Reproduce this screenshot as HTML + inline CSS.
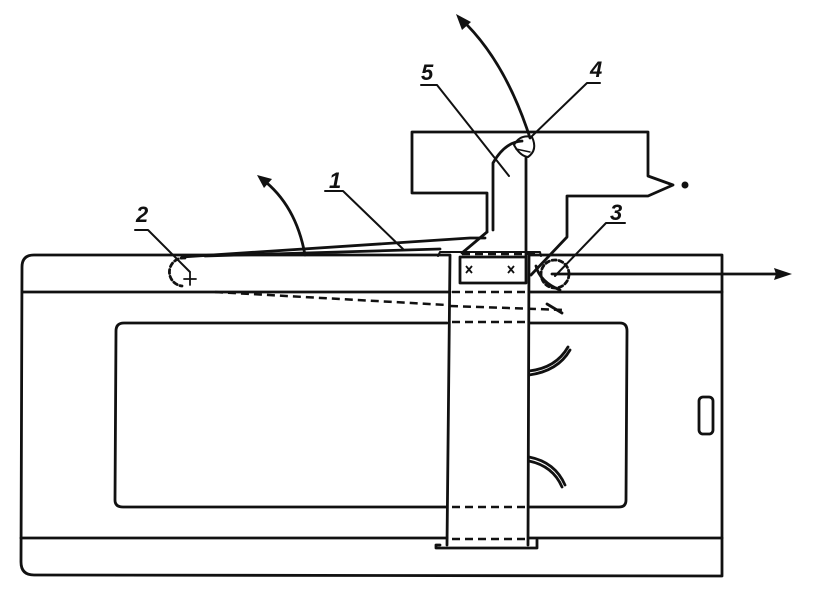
<!DOCTYPE html>
<html><head><meta charset="utf-8"><style>
html,body{margin:0;padding:0;background:#fff}
svg{display:block}
text{font-family:"Liberation Sans",sans-serif;font-weight:bold;font-style:italic;font-size:22px;fill:#111}
</style></head><body>
<svg width="837" height="601" viewBox="0 0 837 601" xmlns="http://www.w3.org/2000/svg">
<g fill="none" stroke="#111" stroke-width="2.8" stroke-linecap="round" stroke-linejoin="round">
<path d="M450 255 L34 255 Q22 255 22 267 L21 562 Q21 575 34 575 L722 576 L722 255 L530 255"/>
<line x1="22" y1="292" x2="450" y2="292"/>
<line x1="529" y1="292" x2="722" y2="292"/>
<line x1="21" y1="538" x2="447" y2="538"/>
<line x1="529" y1="538" x2="722" y2="538"/>
<path d="M447 323 L124 323 Q116 323 116 331 L115 500 Q115 507 123 507 L447 507"/>
<path d="M529 323 L620 323 Q627 323 627 331 L626 500 Q626 507 619 507 L529 507"/>
<line x1="450" y1="256" x2="447" y2="545"/>
<line x1="529" y1="256" x2="528" y2="545"/>
<path d="M440 545 L436 545 L436 548 L537 548 L537 540"/>
<path d="M438 256 L440 252 L540 252 L541 256" stroke-width="2"/>
<rect x="460" y="257" width="66" height="26"/>
<rect x="699" y="397" width="14" height="37" rx="4"/>
<path d="M529 371 Q556 368 568 347"/>
<path d="M529 375 Q558 371 570 350"/>
<path d="M529 457 Q555 462 565 485"/>
<path d="M529 461 Q553 466 562 487"/>
<path d="M487 232 L487 193 L412 193 L412 132 L648 132 L648 176 L673 185 L648 196 L567 196 L567 237 L531 275"/>
<path d="M487 232 L462 253"/>
<path d="M493 230 L493 163 Q505 142 522 141"/>
<line x1="526" y1="158" x2="526" y2="256"/>
<path d="M514 145 Q520 134 532 137 Q538 150 528 157 Q520 156 514 145 Z" stroke-width="2"/>
<path d="M516 149 L530 152" stroke-width="1.5"/>
<path d="M182 257 L470 238 L485 238"/>
<path d="M205 256 L440 249"/>
<path d="M185 258 A14 14 0 0 0 182 286" stroke-dasharray="4 3"/>
<path d="M184 279 L196 279 M190 273 L190 285" stroke-width="1.8"/>
<circle cx="555" cy="274" r="14" stroke-dasharray="4 3"/>
<path d="M536 266 Q540 282 560 290"/>
<path d="M135 230 L148 230 L190 272" stroke-width="2"/>
<path d="M325 191 L343 191 L403 249" stroke-width="2"/>
<path d="M421 85 L437 85 L509 176" stroke-width="2"/>
<path d="M600 83 L587 83 L530 138" stroke-width="2"/>
<path d="M625 223 L606 223 L555 276" stroke-width="2"/>
<path d="M305 255 Q296 205 262 179"/>
<path d="M530 138 Q505 60 460 18"/>
<line x1="552" y1="274" x2="780" y2="274"/>
<line x1="547" y1="304" x2="562" y2="313"/>
</g>
<g fill="#111">
<polygon points="257,175 272,179 264,188"/>
<polygon points="456,14 471,22 462,30"/>
<polygon points="792,274 774,268 776,274 774,280"/>
<circle cx="685" cy="185" r="3.5"/>
</g>
<g fill="none" stroke="#111" stroke-width="2.5" stroke-dasharray="8 5">
<line x1="215" y1="292" x2="447" y2="305"/>
<line x1="450" y1="306" x2="565" y2="310"/>
<line x1="462" y1="254" x2="538" y2="254"/>
<line x1="452" y1="292" x2="528" y2="292"/>
<line x1="452" y1="322" x2="528" y2="322"/>
<line x1="452" y1="507" x2="528" y2="507"/>
<line x1="452" y1="539" x2="528" y2="539"/>
</g>
<g fill="none" stroke="#111" stroke-width="1.8">
<path d="M466 273 L472 266 M466 266 L472 273"/>
<path d="M508 273 L514 266 M508 266 L514 273"/>
</g>
<text x="136" y="222">2</text>
<text x="329" y="188">1</text>
<text x="421" y="80">5</text>
<text x="590" y="77">4</text>
<text x="610" y="220">3</text>
</svg>
</body></html>
